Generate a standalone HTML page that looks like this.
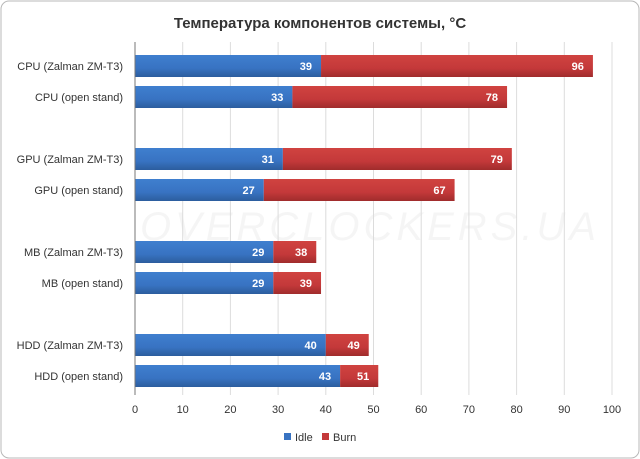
<!DOCTYPE html>
<html><head><meta charset="utf-8"><style>
body{margin:0;background:#fff;}
svg{display:block;font-family:"Liberation Sans","DejaVu Sans",sans-serif;}
</style></head><body>
<svg id="c" width="640" height="459" xmlns="http://www.w3.org/2000/svg">
<defs>
<linearGradient id="gb" x1="0" y1="0" x2="0" y2="1"><stop offset="0" stop-color="#3f7fcf"/><stop offset="0.6" stop-color="#3873c2"/><stop offset="1" stop-color="#2c5d9e"/></linearGradient>
<linearGradient id="gr" x1="0" y1="0" x2="0" y2="1"><stop offset="0" stop-color="#d04340"/><stop offset="0.6" stop-color="#c4393a"/><stop offset="1" stop-color="#a02c2c"/></linearGradient>
</defs>
<rect x="1" y="1" width="638" height="457" rx="8" fill="#fff" stroke="#b8b8b8"/>
<text x="320" y="28" text-anchor="middle" font-size="15" font-weight="bold" fill="#333">Температура компонентов системы, °C</text>
<text x="370" y="240" text-anchor="middle" font-size="40" fill="#000" fill-opacity="0.04" font-style="italic" letter-spacing="4">OVERCLOCKERS.UA</text>
<g id="grid"></g><g id="bars"></g><g id="axis"></g>
<g>
<rect x="284" y="433" width="7" height="7" fill="#3873c2"/>
<text x="295" y="441" font-size="11" fill="#333">Idle</text>
<rect x="322" y="433" width="7" height="7" fill="#c4393a"/>
<text x="333" y="441" font-size="11" fill="#333">Burn</text>
</g>
</svg>
<script>
const categories=["CPU (Zalman  ZM-T3)","CPU (open stand)","GPU (Zalman  ZM-T3)","GPU (open stand)","MB (Zalman  ZM-T3)","MB (open stand)","HDD (Zalman  ZM-T3)","HDD (open stand)"];
const idle=[39,33,31,27,29,29,40,43];
const burn=[96,78,79,67,38,39,49,51];
const ticks=[0,10,20,30,40,50,60,70,80,90,100];
const NS="http://www.w3.org/2000/svg";
const x0=135,x1=612,xMax=100;
const xs=v=>x0+(x1-x0)*v/xMax;
const barTop=[55,86,148,179,241,272,334,365];
const bh=22;
function mk(tag,attrs,parent,txt){const e=document.createElementNS(NS,tag);for(const k in attrs)e.setAttribute(k,attrs[k]);if(txt!==undefined)e.textContent=txt;parent.appendChild(e);return e;}
const grid=document.getElementById('grid'),bars=document.getElementById('bars'),axis=document.getElementById('axis');
ticks.forEach(t=>{
 if(t>0){const l=mk('line',{x1:xs(t),x2:xs(t),y1:42,y2:395,stroke:'#dcdcdc'},grid);
 
 }
 const tx=mk('text',{x:xs(t),y:413,'text-anchor':'middle','font-size':11,fill:'#333'},axis,String(t));
 
 
});
const ax=mk('line',{x1:x0,x2:x0,y1:42,y2:395,stroke:'#777'},axis);


categories.forEach((c,i)=>{
 const y=barTop[i];
 const lb=mk('text',{x:123,y:y+15,'text-anchor':'end','font-size':11,fill:'#333'},axis,c);
 
 
 const ri=mk('rect',{x:xs(0),y:y,width:xs(idle[i])-xs(0),height:bh,fill:'url(#gb)'},bars);
 
 
 const rb=mk('rect',{x:xs(idle[i]),y:y,width:xs(burn[i])-xs(idle[i]),height:bh,fill:'url(#gr)'},bars);
 
 
 const ti=mk('text',{x:xs(idle[i])-9,y:y+15,'text-anchor':'end','font-size':11,'font-weight':'bold',fill:'#fff'},bars,String(idle[i]));
 
 
 const tb=mk('text',{x:xs(burn[i])-9,y:y+15,'text-anchor':'end','font-size':11,'font-weight':'bold',fill:'#fff'},bars,String(burn[i]));
 
 
});
</script>
</body></html>
